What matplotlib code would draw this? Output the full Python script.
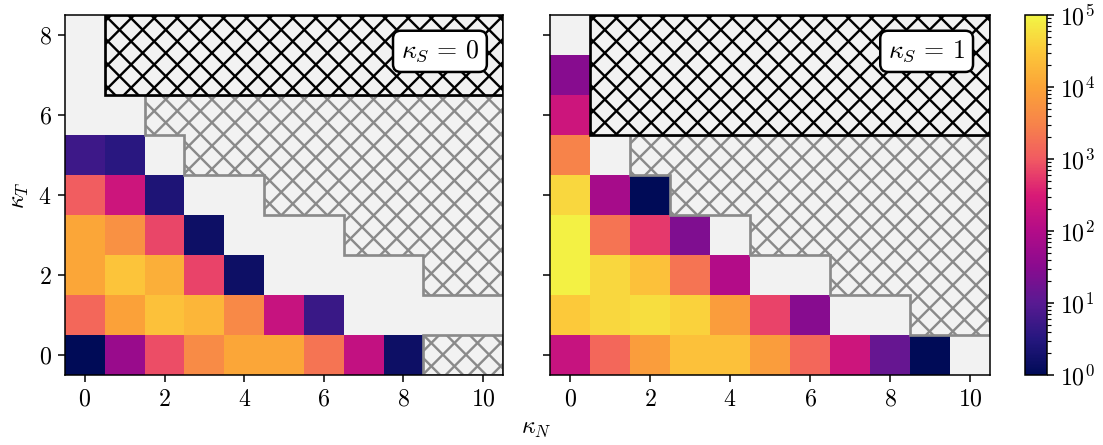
import numpy as np
import matplotlib
matplotlib.use("Agg")
import matplotlib.pyplot as plt
from matplotlib.colors import LogNorm, LinearSegmentedColormap
from matplotlib.patches import Polygon
from matplotlib.collections import LineCollection

plt.rcParams['font.family'] = 'serif'
plt.rcParams['font.serif'] = ['cmr10']
plt.rcParams['mathtext.fontset'] = 'cm'
plt.rcParams['axes.formatter.use_mathtext'] = True
plt.rcParams['font.size'] = 12.5

nan = np.nan
kappa_N = list(range(11))
kappa_T = list(range(9))
panel_labels = [r'$\kappa_S \,=\, 0$', r'$\kappa_S \,=\, 1$']

# counts, rows kT = 0..8, columns kN = 0..10 (nan = no data)
counts_kS0 = [
    [1, 50, 800, 4000, 11000, 11000, 2000, 160, 1.5, nan, nan],
    [1400, 9000, 25000, 18000, 3800, 180, 5, nan, nan, nan, nan],
    [11000, 28000, 14000, 650, 1.5, nan, nan, nan, nan, nan, nan],
    [11000, 5000, 700, 1.5, nan, nan, nan, nan, nan, nan, nan],
    [1100, 220, 2.5, nan, nan, nan, nan, nan, nan, nan, nan],
    [5.5, 3.5, nan, nan, nan, nan, nan, nan, nan, nan, nan],
    [nan] * 11,
    [nan] * 11,
    [nan] * 11,
]
counts_kS1 = [
    [180, 1400, 8000, 25000, 25000, 8000, 1400, 220, 14, 1, nan],
    [32000, 45000, 55000, 40000, 8000, 650, 30, nan, nan, nan, nan],
    [90000, 45000, 25000, 2000, 100, nan, nan, nan, nan, nan, nan],
    [90000, 2000, 550, 25, nan, nan, nan, nan, nan, nan, nan],
    [45000, 70, 1, nan, nan, nan, nan, nan, nan, nan, nan],
    [3000, nan, nan, nan, nan, nan, nan, nan, nan, nan, nan],
    [220, nan, nan, nan, nan, nan, nan, nan, nan, nan, nan],
    [30, nan, nan, nan, nan, nan, nan, nan, nan, nan, nan],
    [nan] * 11,
]

# first excluded column per kT row (None = no exclusion in that row)
gray_start_kS0 = [9, None, 9, 7, 5, 3, 2, None, None]
black_start_kS0 = [None, None, None, None, None, None, None, 1, 1]
gray_start_kS1 = [None, 9, 7, 5, 3, 2, None, None, None]
black_start_kS1 = [None, None, None, None, None, None, 1, 1, 1]

cmap = LinearSegmentedColormap.from_list('custom', [
    (0.00, '#000b57'), (0.10, '#26177f'), (0.20, '#591a92'),
    (0.30, '#8a0b8f'), (0.40, '#b30c88'), (0.50, '#d91a76'),
    (0.60, '#f15a62'), (0.70, '#f7844a'), (0.80, '#fba338'),
    (0.90, '#fcc83a'), (1.00, '#f2f545')])
norm = LogNorm(vmin=1, vmax=1e5)
bg = '#f2f2f2'

dpi = 138
fig = plt.figure(figsize=(1103 / dpi, 445 / dpi), dpi=dpi)
W, H = 1103, 445
ax_l = fig.add_axes([65 / W, 1 - 375 / H, 438 / W, 360 / H])
ax_r = fig.add_axes([550 / W, 1 - 375 / H, 440 / W, 360 / H], sharey=ax_l)
cax = fig.add_axes([1025 / W, 1 - 375 / H, 22 / W, 360 / H])

xmax = kappa_N[-1] + 0.5
hatch_step = 0.58


def region_polys(starts):
    polys = []
    rows = [r for r, s in enumerate(starts) if s is not None]
    groups = []
    for r in rows:
        if groups and groups[-1][-1] == r - 1:
            groups[-1].append(r)
        else:
            groups.append([r])
    for g in groups:
        v = [(xmax, g[0] - 0.5)]
        for r in g:
            v.append((starts[r] - 0.5, r - 0.5))
            v.append((starts[r] - 0.5, r + 0.5))
        v.append((xmax, g[-1] + 0.5))
        polys.append(v)
    return polys


def add_hatched(ax, verts, color, z):
    patch = Polygon(verts, closed=True, facecolor=bg, edgecolor='none', zorder=z)
    ax.add_patch(patch)
    segs = []
    for c in np.arange(-20, 30, hatch_step):
        segs.append([(-2, -2 + c), (13, 13 + c)])
        segs.append([(-2, 2 + c), (13, -13 + c)])
    lc = LineCollection(segs, colors=color, linewidths=1.25, zorder=z + 0.1)
    ax.add_collection(lc)
    lc.set_clip_path(patch)
    outline = Polygon(verts, closed=True, facecolor='none', edgecolor=color,
                      linewidth=1.4, zorder=z + 0.2)
    ax.add_patch(outline)


im = None
for ax, data, gs, bs, lab in [
        (ax_l, counts_kS0, gray_start_kS0, black_start_kS0, panel_labels[0]),
        (ax_r, counts_kS1, gray_start_kS1, black_start_kS1, panel_labels[1])]:
    ax.set_facecolor(bg)
    arr = np.ma.masked_invalid(np.array(data, dtype=float))
    im = ax.pcolormesh(np.arange(-0.5, len(kappa_N)), np.arange(-0.5, len(kappa_T)),
                       arr, cmap=cmap, norm=norm, shading='flat')
    for v in region_polys(gs):
        add_hatched(ax, v, '#8a8a8a', 3)
    for v in region_polys(bs):
        add_hatched(ax, v, 'black', 4)
    ax.set_xlim(-0.5, 10.5)
    ax.set_ylim(-0.5, 8.5)
    ax.set_xticks([0, 2, 4, 6, 8, 10])
    ax.set_yticks([0, 2, 4, 6, 8])
    ax.text(0.856, 0.899, lab, transform=ax.transAxes, ha='center', va='center',
            fontsize=13.5, zorder=6,
            bbox=dict(boxstyle='round,pad=0.3', fc='white', ec='black', lw=1.3))
    for sp in ax.spines.values():
        sp.set_zorder(7)

ax_r.tick_params(labelleft=False)
ax_l.set_ylabel(r'$\kappa_T$', labelpad=4)
fig.text(0.486, 0.035, r'$\kappa_N$', ha='center', va='center', fontsize=12.5)

cb = fig.colorbar(im, cax=cax)
cb.set_ticks([1, 10, 100, 1e3, 1e4, 1e5])

fig.savefig('out.png', dpi=dpi)
